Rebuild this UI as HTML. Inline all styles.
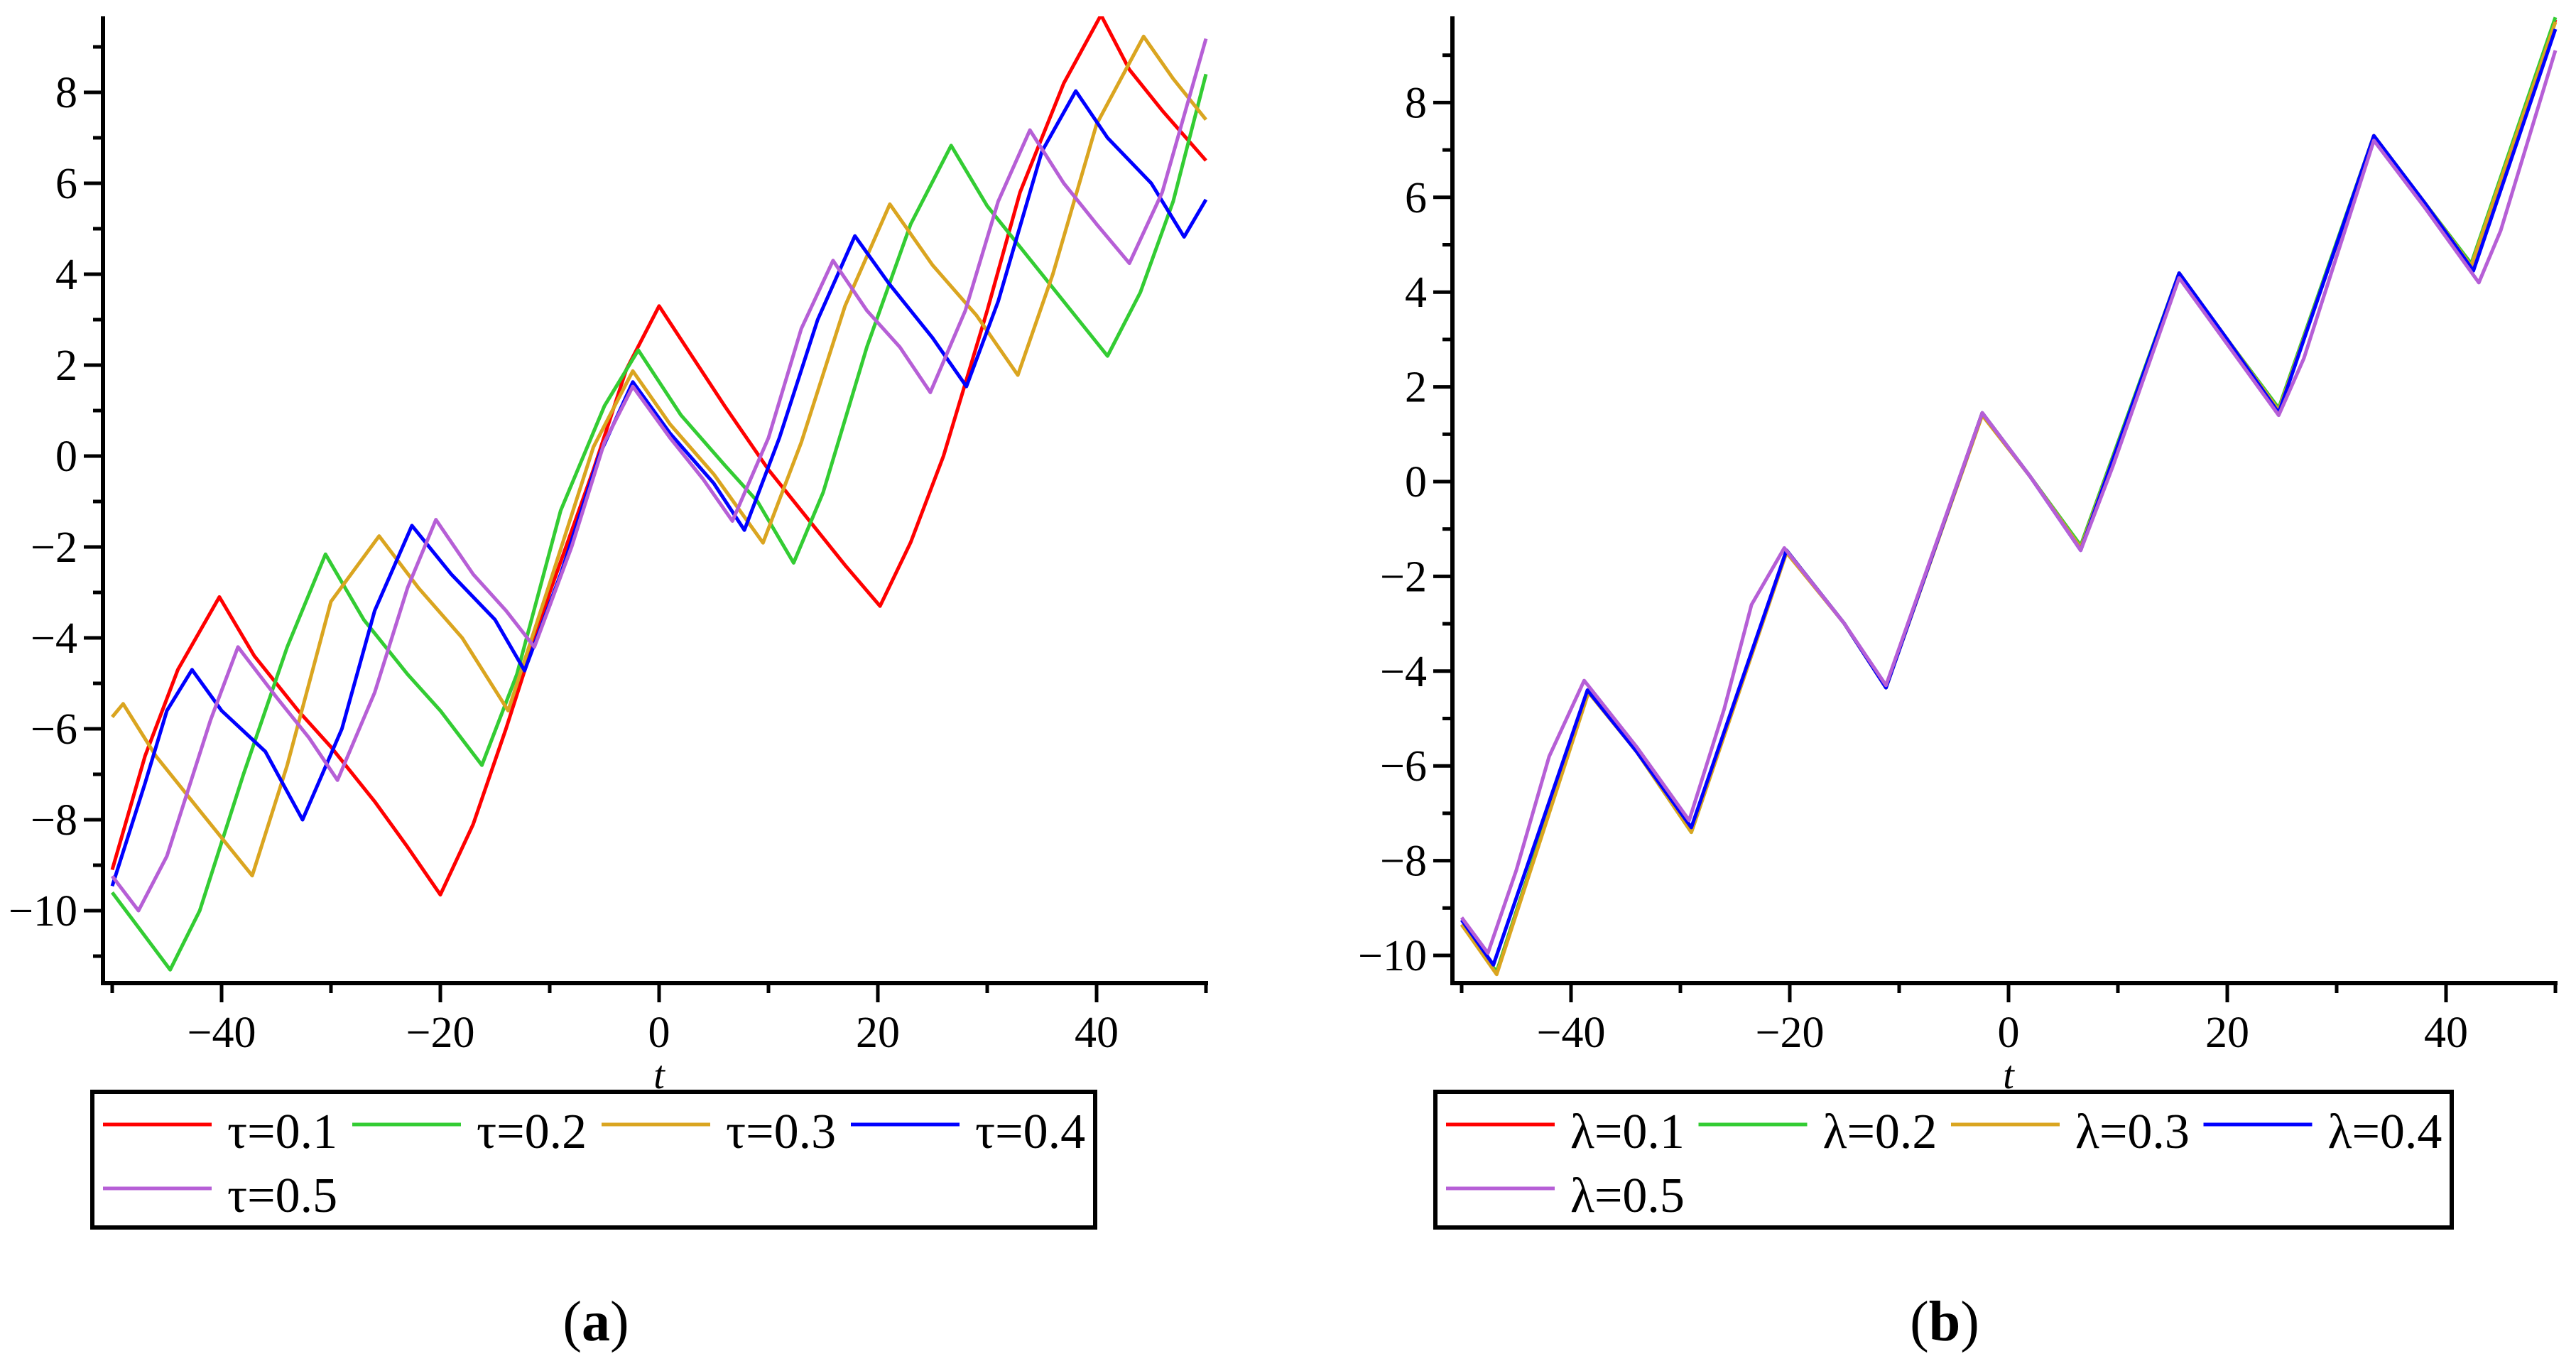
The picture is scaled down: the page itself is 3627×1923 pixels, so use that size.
<!DOCTYPE html>
<html><head><meta charset="utf-8">
<style>
html,body{margin:0;padding:0;background:#fff;}
svg{display:block;}
text{font-family:"Liberation Serif",serif;fill:#000;}
</style></head>
<body>
<svg id="fig" width="3627" height="1923" viewBox="0 0 3627 1923" xmlns="http://www.w3.org/2000/svg"></svg>
<script>
// ---------- data: chart (a) ----------
const tauLabels = ["τ=0.1","τ=0.2","τ=0.3","τ=0.4","τ=0.5"];
const tau01 = [[-50,-9.1],[-47,-6.6],[-44,-4.7],[-40.2,-3.1],[-37,-4.4],[-33,-5.6],[-30,-6.4],[-26,-7.6],[-23,-8.6],[-20,-9.65],[-17,-8.1],[-14,-6.0],[-10,-3.0],[-6,-0.3],[-3,1.9],[0,3.3],[3,2.2],[6,1.1],[10,-0.3],[14,-1.5],[17,-2.4],[20.2,-3.3],[23,-1.9],[26,0],[30,3.2],[33,5.8],[37,8.2],[40.4,9.7],[43,8.5],[46,7.6],[50,6.5]];
const tau02 = [[-50,-9.6],[-47.5,-10.4],[-44.7,-11.3],[-42,-10.0],[-38,-7.0],[-34,-4.2],[-30.5,-2.16],[-27,-3.6],[-23,-4.8],[-20,-5.6],[-16.2,-6.8],[-13,-4.8],[-9,-1.2],[-5,1.1],[-1.9,2.33],[2,0.9],[6,-0.2],[9,-1.0],[12.3,-2.35],[15,-0.8],[19,2.4],[23,5.1],[26.7,6.83],[30,5.5],[34,4.3],[37,3.4],[41,2.2],[44,3.6],[47,5.6],[50,8.4]];
const tau03 = [[-50,-5.74],[-49,-5.45],[-46,-6.6],[-42,-7.8],[-37.2,-9.23],[-34,-6.8],[-30,-3.2],[-25.6,-1.76],[-22,-2.9],[-18,-4.0],[-13.8,-5.6],[-10,-2.8],[-6,0.2],[-2.4,1.87],[1,0.7],[5,-0.4],[9.5,-1.91],[13,0.3],[17,3.3],[21.1,5.54],[25,4.2],[29,3.1],[32.8,1.78],[36,4.0],[40,7.3],[44.3,9.23],[47,8.3],[50,7.4]];
const tau04 = [[-50,-9.46],[-47,-7.2],[-45,-5.6],[-42.7,-4.7],[-40,-5.6],[-36,-6.5],[-32.6,-8.0],[-29,-6.0],[-26,-3.4],[-22.6,-1.53],[-19,-2.6],[-15,-3.6],[-12.3,-4.72],[-9,-2.6],[-5.5,0],[-2.4,1.63],[1,0.5],[5,-0.6],[7.8,-1.63],[11,0.4],[14.5,3.0],[17.9,4.84],[21,3.8],[25,2.6],[28.1,1.53],[31,3.4],[35,6.7],[38.1,8.03],[41,7.0],[45,6.0],[48,4.82],[50,5.64]];
const tau05 = [[-50,-9.24],[-47.6,-10.0],[-45,-8.8],[-41,-5.8],[-38.5,-4.2],[-35,-5.3],[-32,-6.2],[-29.4,-7.13],[-26,-5.2],[-23,-2.9],[-20.4,-1.4],[-17,-2.6],[-14,-3.4],[-11.4,-4.2],[-8,-2.0],[-5,0.3],[-2.4,1.53],[1,0.4],[4,-0.5],[6.7,-1.43],[10,0.4],[13,2.8],[15.9,4.3],[19,3.2],[22,2.4],[24.8,1.4],[28,3.2],[31,5.6],[33.9,7.17],[37,6.0],[40,5.1],[43,4.24],[46,5.8],[50,9.18]];
// ---------- data: chart (b) ----------
const lamLabels = ["λ=0.1","λ=0.2","λ=0.3","λ=0.4","λ=0.5"];
const lam01 = [[-50,-9.35],[-46.8,-10.35],[-38.4,-4.4],[-34,-5.7],[-29,-7.35],[-20.3,-1.45],[-15,-3.0],[-11.2,-4.35],[-2.4,1.45],[2,0.1],[6.6,-1.4],[15.6,4.4],[20,3.0],[24.7,1.5],[33.4,7.3],[38,5.9],[42.3,4.55],[50,9.75]];
const lam02 = [[-50,-9.35],[-46.8,-10.35],[-38.4,-4.4],[-34,-5.7],[-29,-7.4],[-20.3,-1.45],[-15,-3.0],[-11.2,-4.35],[-2.4,1.45],[2,0.1],[6.6,-1.35],[15.6,4.4],[20,3.0],[24.7,1.55],[33.4,7.3],[38,5.9],[42.3,4.6],[50,9.8]];
const lam03 = [[-50,-9.35],[-46.8,-10.4],[-38.4,-4.45],[-34,-5.7],[-29,-7.4],[-20.3,-1.5],[-15,-3.0],[-11.2,-4.35],[-2.4,1.4],[2,0.1],[6.6,-1.4],[15.6,4.35],[20,3.0],[24.7,1.5],[33.4,7.25],[38,5.9],[42.3,4.55],[50,9.7]];
const lam04 = [[-50,-9.25],[-47.1,-10.2],[-38.5,-4.4],[-34,-5.7],[-29,-7.3],[-20.3,-1.45],[-15,-3.0],[-11.2,-4.35],[-2.4,1.45],[2,0.1],[6.6,-1.45],[15.6,4.4],[20,3.0],[24.7,1.45],[33.4,7.3],[38,5.9],[42.5,4.45],[50,9.55]];
const lam05 = [[-50,-9.2],[-47.6,-9.95],[-45,-8.2],[-42,-5.8],[-38.8,-4.2],[-34,-5.6],[-29.2,-7.15],[-26,-4.8],[-23.5,-2.6],[-20.5,-1.4],[-15,-3.0],[-11.2,-4.3],[-2.4,1.45],[2,0.1],[6.6,-1.45],[9.5,0.3],[15.6,4.3],[20,2.9],[24.7,1.4],[27,2.6],[33.4,7.2],[38,5.8],[43,4.2],[45,5.3],[50,9.1]];
const colors = ["#ff0000","#33cc33","#daa520","#0000ff","#b65fd6"];
const xTicks = [-50,-40,-30,-20,-10,0,10,20,30,40,50];
const xTickLabels = ["−40","−20","0","20","40"];
const xLabelVals = [-40,-20,0,20,40];
const yMajorVals = [-10,-8,-6,-4,-2,0,2,4,6,8];
const yTickLabels = ["−10","−8","−6","−4","−2","0","2","4","6","8"];

const NS = "http://www.w3.org/2000/svg";
const svg = document.getElementById("fig");
function mk(tag, attrs, parent){
  const e = document.createElementNS(NS, tag);
  for (const k in attrs) e.setAttribute(k, attrs[k]);
  (parent||svg).appendChild(e);
  return e;
}

function drawChart(cfg){
  const g = mk("g", {});
  
  
  const X = v => cfg.x0 + (v - (-50)) * (cfg.x1 - cfg.x0) / 100;
  const Y = v => cfg.yZero - v * cfg.yUnit;
  const axisY = 1384, top = 23;
  const clipId = cfg.name + "-clip";
  const defs = mk("defs", {}, g);
  const cp = mk("clipPath", {id: clipId}, defs);
  mk("rect", {x: cfg.axisX, y: top, width: cfg.x1 - cfg.axisX + 4, height: axisY - top}, cp);
  cfg.series.forEach((s, i) => {
    const d = s.map((p, j) => (j ? "L" : "M") + X(p[0]).toFixed(1) + " " + Y(p[1]).toFixed(1)).join(" ");
    const path = mk("path", {d: d, fill: "none", stroke: colors[i], "stroke-width": 5, "stroke-linejoin": "round", "clip-path": "url(#" + clipId + ")"}, g);
    
    
  });
  const ya = mk("line", {x1: cfg.axisX, y1: top, x2: cfg.axisX, y2: axisY + 3, stroke: "#000", "stroke-width": 6}, g);
  
  
  const xa = mk("line", {x1: cfg.axisX - 3, y1: axisY, x2: cfg.x1 + 3, y2: axisY, stroke: "#000", "stroke-width": 6}, g);
  
  
  xTicks.forEach(v => {
    const major = v % 20 === 0;
    mk("line", {x1: X(v), y1: axisY, x2: X(v), y2: axisY + (major ? 27 : 14), stroke: "#000", "stroke-width": 5}, g);
  });
  xLabelVals.forEach((v, i) => {
    const t = mk("text", {x: X(v), y: 1474, "font-size": 62, "text-anchor": "middle"}, g);
    t.textContent = xTickLabels[i];
    
    
  });
  for (let v = -11; v <= 9; v++) {
    const yy = Y(v);
    if (yy < top || yy > axisY) continue;
    const major = v % 2 === 0;
    mk("line", {x1: cfg.axisX - (major ? 27 : 14), y1: yy, x2: cfg.axisX, y2: yy, stroke: "#000", "stroke-width": 5}, g);
  }
  yMajorVals.forEach((v, i) => {
    const t = mk("text", {x: cfg.axisX - 36, y: Y(v) + 21, "font-size": 62, "text-anchor": "end"}, g);
    t.textContent = yTickLabels[i];
    
    
  });
  const tl = mk("text", {x: X(0), y: 1532, "font-size": 56, "font-style": "italic", "text-anchor": "middle"}, g);
  tl.textContent = "t";
  
  
  const lg = mk("g", {}, g);
  
  
  mk("rect", {x: cfg.legX0, y: 1537, width: cfg.legX1 - cfg.legX0, height: 191, fill: "none", stroke: "#000", "stroke-width": 6}, lg);
  cfg.labels.forEach((lab, i) => {
    const row = i < 4 ? 0 : 1, col = i < 4 ? i : 0;
    const lx = cfg.legLine0 + col * cfg.legStep;
    const ly = row ? 1673 : 1583;
    const ent = mk("g", {}, lg);
    
    
    mk("line", {x1: lx, y1: ly, x2: lx + 153, y2: ly, stroke: colors[i], "stroke-width": 5}, ent);
    const t = mk("text", {x: lx + cfg.legTextOff, y: ly + 33, "font-size": 70}, ent);
    t.textContent = lab;
  });
  const cap = mk("text", {x: cfg.capX, y: 1887, "font-size": 80, "text-anchor": "middle"}, g);
  cap.innerHTML = '(<tspan font-weight="bold">' + cfg.cap + '</tspan>)';
  
  
}

drawChart({name: "chart-a", axisX: 145, x0: 158, x1: 1698, yZero: 642, yUnit: 64,
  series: [tau01, tau02, tau03, tau04, tau05], labels: tauLabels,
  legX0: 130, legX1: 1542, legLine0: 145, legStep: 351, legTextOff: 175, capX: 839, cap: "a"});
drawChart({name: "chart-b", axisX: 2045, x0: 2058, x1: 3598, yZero: 678, yUnit: 66.7,
  series: [lam01, lam02, lam03, lam04, lam05], labels: lamLabels,
  legX0: 2021, legX1: 3452, legLine0: 2036, legStep: 355.5, legTextOff: 175, capX: 2738, cap: "b"});
</script>
</body></html>
